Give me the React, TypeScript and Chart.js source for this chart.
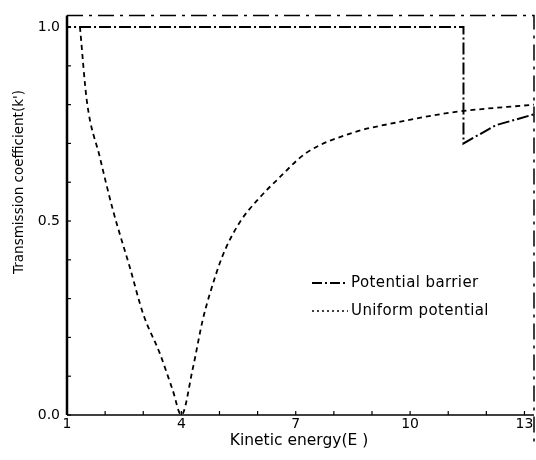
import React, { useEffect, useRef } from "react";
import { Chart, registerables } from "chart.js";

Chart.register(...registerables);

// Potential barrier (dash-dot) curve
const barrierE = [1, 1, 11.4, 11.4, 12.25, 13.25];
const barrierK = [0, 1.0, 1.0, 0.7, 0.747, 0.775];

// Uniform potential (dashed) curve
const uniformE = [1.34, 1.52, 1.86, 2.2, 2.65, 3.0, 3.43, 3.77, 4.0, 4.3, 4.56, 4.74, 5.08, 5.52, 6.05, 6.5, 7.27, 8.48, 9.7, 11.1, 13.25];
const uniformK = [1.0, 0.81, 0.665, 0.53, 0.38, 0.26, 0.16, 0.065, 0.0, 0.12, 0.245, 0.31, 0.41, 0.495, 0.56, 0.605, 0.675, 0.727, 0.755, 0.78, 0.8];

const xTicks = [1, 2, 3, 4, 5, 6, 7, 8, 9, 10, 11, 12, 13];
const xLabels = [1, 4, 7, 10, 13];
const yTicks = [0, 0.1, 0.2, 0.3, 0.4, 0.5, 0.6, 0.7, 0.8, 0.9, 1.0];
const yLabels = [0, 0.5, 1.0];

const seriesNames = ["Potential barrier", "Uniform potential"];
const xTitle = "Kinetic energy(E )";
const yTitle = "Transmission coefficient(k')";

const BARRIER_DASH = [12, 3, 2, 3];
const UNIFORM_DASH = [5, 4];
const FONT = "DejaVu Sans";

const decorPlugin = {
  id: "decor",
  afterDraw(chart: any) {
    const ctx = chart.ctx;
    const ca = chart.chartArea;
    const xs = chart.scales.x;
    const ys = chart.scales.y;
    ctx.save();
    ctx.strokeStyle = "#000";
    // axes
    ctx.setLineDash([]);
    ctx.lineWidth = 2.5;
    ctx.beginPath();
    ctx.moveTo(ca.left, ca.top);
    ctx.lineTo(ca.left, ca.bottom);
    ctx.stroke();
    ctx.lineWidth = 1.5;
    ctx.beginPath();
    ctx.moveTo(ca.left, ca.bottom);
    ctx.lineTo(ca.right, ca.bottom);
    ctx.stroke();
    // frame top/right (dash-dot)
    ctx.lineWidth = 1.5;
    ctx.setLineDash([16, 6, 3, 6]);
    ctx.beginPath();
    ctx.moveTo(ca.left, ca.top);
    ctx.lineTo(ca.right, ca.top);
    ctx.lineTo(ca.right, ca.bottom + 30);
    ctx.stroke();
    ctx.setLineDash([]);
    // inward ticks
    ctx.lineWidth = 1.2;
    xTicks.forEach((v) => {
      const px = xs.getPixelForValue(v);
      ctx.beginPath();
      ctx.moveTo(px, ca.bottom);
      ctx.lineTo(px, ca.bottom - 4);
      ctx.stroke();
    });
    yTicks.forEach((v) => {
      const py = ys.getPixelForValue(v);
      ctx.beginPath();
      ctx.moveTo(ca.left, py);
      ctx.lineTo(ca.left + 4, py);
      ctx.stroke();
    });
    // titles
    ctx.fillStyle = "#000";
    ctx.font = `13.5px ${FONT}`;
    ctx.textAlign = "center";
    ctx.textBaseline = "middle";
    ctx.save();
    ctx.translate(19, 182);
    ctx.rotate(-Math.PI / 2);
    ctx.fillText(yTitle, 0, 0);
    ctx.restore();
    ctx.font = `15.5px ${FONT}`;
    ctx.fillText(xTitle, 299, 441);
    // legend
    const items = [
      { dash: [10, 3, 2, 3], y: 283, w: 2 },
      { dash: [2, 3], y: 311, w: 1.5 },
    ];
    ctx.textAlign = "left";
    ctx.font = `15px ${FONT}`;
    try {
      (ctx as any).letterSpacing = "0.4px";
    } catch (e) {}
    items.forEach((it, i) => {
      ctx.setLineDash(it.dash);
      ctx.lineWidth = it.w;
      ctx.beginPath();
      ctx.moveTo(312, it.y);
      ctx.lineTo(348, it.y);
      ctx.stroke();
      ctx.setLineDash([]);
      ctx.fillText(seriesNames[i], 351, it.y);
    });
    ctx.restore();
  },
};

export default function App() {
  const ref = useRef<HTMLCanvasElement | null>(null);
  useEffect(() => {
    if (!ref.current) return;
    const chart = new Chart(ref.current, {
      type: "line",
      data: {
        datasets: [
          {
            label: seriesNames[0],
            data: barrierE.map((x, i) => ({ x, y: barrierK[i] })),
            borderColor: "#000",
            borderWidth: 2,
            borderDash: BARRIER_DASH,
            pointRadius: 0,
            fill: false,
            tension: 0,
          },
          {
            label: seriesNames[1],
            data: uniformE.map((x, i) => ({ x, y: uniformK[i] })),
            borderColor: "#000",
            borderWidth: 1.8,
            borderDash: UNIFORM_DASH,
            pointRadius: 0,
            fill: false,
            cubicInterpolationMode: "monotone",
          },
        ],
      },
      options: {
        responsive: false,
        animation: false,
        layout: { padding: { top: 15, right: 2, left: 0, bottom: 0 } },
        plugins: { legend: { display: false }, tooltip: { enabled: false } },
        scales: {
          x: {
            type: "linear",
            min: 1,
            max: 13.25,
            grid: { display: false, drawTicks: false },
            border: { display: false },
            afterBuildTicks: (s: any) => {
              s.ticks = xTicks.map((v) => ({ value: v }));
            },
            afterFit: (s: any) => {
              s.height = 45;
            },
            ticks: {
              autoSkip: false,
              maxRotation: 0,
              padding: 1,
              color: "#000",
              font: { family: FONT, size: 14 },
              callback: (v: any) => (xLabels.includes(Number(v)) ? String(v) : ""),
            },
          },
          y: {
            type: "linear",
            min: 0,
            max: 1.03,
            grid: { display: false, drawTicks: false },
            border: { display: false },
            afterBuildTicks: (s: any) => {
              s.ticks = yTicks.map((v) => ({ value: v }));
            },
            afterFit: (s: any) => {
              s.width = 67;
            },
            ticks: {
              autoSkip: false,
              padding: 7,
              color: "#000",
              font: { family: FONT, size: 14 },
              callback: (v: any) => {
                const n = Number(v);
                return yLabels.some((l) => Math.abs(l - n) < 1e-6) ? n.toFixed(1) : "";
              },
            },
          },
        },
      },
      plugins: [decorPlugin],
    });
    return () => chart.destroy();
  }, []);
  return (
    <div style={{ position: "absolute", left: 0, top: 0, width: 536, height: 460, background: "#fff" }}>
      <canvas ref={ref} width={536} height={460} style={{ width: 536, height: 460 }} />
    </div>
  );
}
